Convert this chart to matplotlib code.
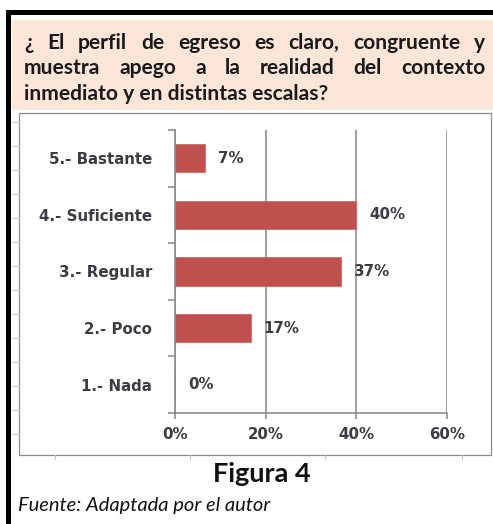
import matplotlib.pyplot as plt
from matplotlib.patches import Rectangle

# survey answers (share of respondents, %)
categorias = ["1.- Nada", "2.- Poco", "3.- Regular", "4.- Suficiente", "5.- Bastante"]
porcentajes = [0.0, 16.67, 36.67, 40.0, 6.67]
ticks_x = [0, 20, 40, 60]
ticks_x_lbl = ["0%", "20%", "40%", "60%"]

pregunta = ["¿ El perfil de egreso es claro, congruente y",
            "muestra apego a la realidad del contexto",
            "inmediato y en distintas escalas?"]
figura = "Figura 4"
fuente = "Fuente: Adaptada por el autor"

W, H = 493, 524
fig = plt.figure(figsize=(W / 100, H / 100), dpi=100)
fig.patch.set_facecolor("white")


def fx(x):
    return x / W


def fy(y):
    return 1 - y / H


def caja(x0, y0, x1, y1, **kw):
    r = Rectangle((fx(x0), fy(y1)), fx(x1) - fx(x0), fy(y0) - fy(y1),
                  transform=fig.transFigure, zorder=-2, **kw)
    fig.add_artist(r)


# outer frame and question band
caja(8, 12, 520, 560, facecolor="none", edgecolor="black", lw=3.6)
caja(12, 20, 500, 110, facecolor="#fce6d8", edgecolor="none")
caja(19, 113, 491, 455, facecolor="white", edgecolor="#8c8c8c", lw=0.9)

# small leftover ticks along the chart box edge
for yy in range(122, 452, 24):
    fig.add_artist(plt.Line2D([fx(13), fx(19)], [fy(yy), fy(yy)],
                              transform=fig.transFigure, color="#c4c4d0", lw=0.7))
for xx in [55, 190, 325, 462]:
    fig.add_artist(plt.Line2D([fx(xx), fx(xx)], [fy(455), fy(459)],
                              transform=fig.transFigure, color="#c8c8c8", lw=0.8))

# question text, first two lines justified
tfont = dict(family="Lato", weight="bold", color="#1a1a1a")
renderer = fig.canvas.get_renderer()
prueba = fig.text(0, 0, pregunta[2], fontsize=14, **tfont)
ancho = prueba.get_window_extent(renderer).width
prueba.remove()
tsize = 14 * 306 / ancho

izq, der = 24, 485
bases = [49, 74, 100]
for i, linea in enumerate(pregunta):
    if i < 2:
        palabras = linea.split(" ")
        objs = [fig.text(0, fy(bases[i]), p, fontsize=tsize, va="baseline", **tfont)
                for p in palabras]
        anchos = [o.get_window_extent(renderer).width for o in objs]
        hueco = (der - izq - sum(anchos)) / (len(palabras) - 1)
        x = izq
        for o, a in zip(objs, anchos):
            o.set_x(fx(x))
            x += a + hueco
    else:
        fig.text(fx(izq), fy(bases[i]), linea, fontsize=tsize, va="baseline", **tfont)

# bar chart
ax = fig.add_axes([fx(175), fy(413), fx(447) - fx(175), fy(130) - fy(413)])
ax.set_zorder(5)
ax.patch.set_alpha(0)
gris = "#868686"
texto = "#3c3c44"
barras = ax.barh(categorias, porcentajes, height=0.5, color="#c0504d",
                 edgecolor="#d06a66", lw=0.6, zorder=3)
for b, v in zip(barras, porcentajes):
    ax.annotate(f"{v:.0f}%", (b.get_width(), b.get_y() + b.get_height() / 2),
                xytext=(9.5, 0), textcoords="offset points", va="center", ha="left",
                fontsize=10.8, fontweight="bold", color=texto, family="DejaVu Sans")

ax.set_xlim(0, 60)
ax.set_ylim(-0.5, 4.5)
ax.set_xticks(ticks_x)
ax.set_xticklabels(ticks_x_lbl)
ax.set_yticks([i - 0.5 for i in range(6)], minor=True)
ax.tick_params(axis="y", which="major", length=0, pad=16.5, labelsize=10.8,
               labelcolor=texto)
ax.tick_params(axis="y", which="minor", length=5, color=gris, width=1.1)
ax.tick_params(axis="x", length=4, color=gris, width=1.1, pad=6, labelsize=10.8,
               labelcolor=texto)
for lbl in ax.get_xticklabels() + ax.get_yticklabels():
    lbl.set_fontweight("bold")
ax.grid(axis="x", color=gris, lw=1.1, zorder=0)
for s in ["top", "right"]:
    ax.spines[s].set_visible(False)
for s in ["left", "bottom"]:
    ax.spines[s].set_color(gris)
    ax.spines[s].set_linewidth(1.1)

# caption
fig.text(fx(262), fy(474), figura, fontsize=19.5, family="Lato", weight="bold",
         ha="center", va="center", color="#111111")
fig.text(fx(18), fy(506), fuente, fontsize=14.5, family="Lato", style="italic",
         ha="left", va="center", color="#111111")

fig.savefig("out.png", dpi=100)
